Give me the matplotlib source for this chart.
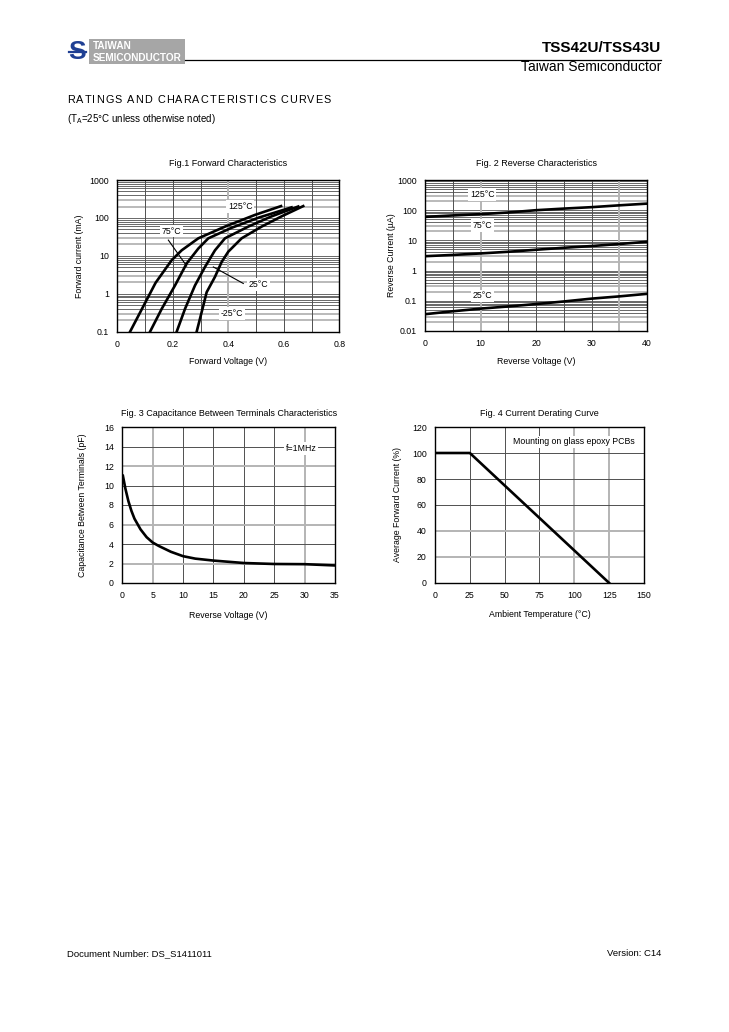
# Recreate the TSS42U/TSS43U characteristic curves page.
import numpy as np
import matplotlib
matplotlib.use('Agg')
import matplotlib.pyplot as plt
from matplotlib.patches import Rectangle

plt.rcParams['font.family'] = ['Liberation Sans', 'DejaVu Sans']
plt.rcParams['mathtext.fontset'] = 'custom'
plt.rcParams['mathtext.rm'] = 'Liberation Sans'

# Fig.1 forward characteristics (V, mA).
vf_125 = [0.046, 0.138, 0.196, 0.232, 0.292, 0.388, 0.496, 0.590]
if_125 = [0.1, 1.95, 7.7, 14, 29, 59, 120, 205]
vf_75 = [0.118, 0.16, 0.208, 0.25, 0.292, 0.328, 0.412, 0.508, 0.628]
if_75 = [0.1, 0.4, 1.66, 6.3, 15.6, 29, 55, 101, 190]
vf_25 = [0.214, 0.244, 0.28, 0.316, 0.352, 0.388, 0.472, 0.556, 0.652]
if_25 = [0.1, 0.4, 1.66, 5.1, 14, 29, 59, 110, 200]
vf_m25 = [0.286, 0.31, 0.322, 0.352, 0.376, 0.40, 0.448, 0.52, 0.592, 0.670]
if_m25 = [0.1, 0.49, 1.1, 2.8, 6.9, 12.9, 29, 59, 110, 205]

# Fig.2 reverse characteristics (V, uA).
vr = [0, 5, 10, 15, 20, 25, 30, 35, 40]
ir_125 = [60, 67, 74, 84, 100, 113, 126, 145, 165]
ir_75 = [3.0, 3.3, 3.7, 4.2, 4.9, 5.7, 6.5, 7.6, 9.0]
ir_25 = [0.036, 0.045, 0.055, 0.065, 0.078, 0.095, 0.118, 0.14, 0.17]

# Fig.3 capacitance (V, pF).
vc = [0.1, 0.5, 1, 1.5, 2, 3, 4, 5, 6, 8, 10, 12, 15, 20, 25, 30, 35]
cap = [11.0, 9.7, 8.4, 7.4, 6.6, 5.5, 4.7, 4.15, 3.8, 3.2, 2.75, 2.5, 2.3, 2.05, 1.95, 1.93, 1.8]

# Fig.4 derating (deg C, %).
ta = [0, 25, 125]
iav = [100, 100, 0]

DARK = '#505050'
LIGHT = '#b4b4b4'

fig = plt.figure(figsize=(7.29, 10.32), dpi=100)


def px(x, y):
    # pixel position -> figure fraction
    return x / 729, 1 - y / 1032


def box(l, t, r, b):
    return [l / 729, 1 - b / 1032, (r - l) / 729, (b - t) / 1032]


def style(ax):
    ax.tick_params(length=0, labelsize=6.3, pad=6)
    for s in ax.spines.values():
        s.set_linewidth(1.0)
        s.set_color('black')
        s.set_zorder(5)


def vlines(ax, light, dark):
    for v in light:
        ax.axvline(v, color=LIGHT, lw=1.4, zorder=1)
    for v in dark:
        ax.axvline(v, color=DARK, lw=0.7, zorder=1)


def hlines(ax, light, dark):
    for v in light:
        ax.axhline(v, color=LIGHT, lw=1.4, zorder=1)
    for v in dark:
        ax.axhline(v, color=DARK, lw=0.7, zorder=1)


def log_grid(ax, d0, d1):
    for d in range(d0, d1):
        for m in range(1, 10):
            y = m * 10.0 ** d
            if m in (2, 3):
                ax.axhline(y, color=LIGHT, lw=1.3, zorder=1)
            else:
                ax.axhline(y, color=DARK, lw=0.6, zorder=1)


def spaced_text(x, y, s, gap, **kw):
    # draw text one character at a time with extra letter spacing (pixels)
    r = fig.canvas.get_renderer()
    for ch in s:
        t = fig.text(x / 729, 1 - y / 1032, ch, **kw)
        if ch == ' ':
            w = fig.text(0, 0, 'a a', **kw)
            w2 = fig.text(0, 0, 'aa', **kw)
            sw = w.get_window_extent(r).width - w2.get_window_extent(r).width
            w.remove()
            w2.remove()
        else:
            sw = t.get_window_extent(r).width
        x += sw + gap


lbl = dict(fontsize=6.3, ha='center', va='center', zorder=4,
           bbox=dict(facecolor='white', edgecolor='none', pad=1.2))

# ---------------- Fig.1 ----------------
ax1 = fig.add_axes(box(117.3, 180, 339.3, 331.7))
ax1.set_yscale('log')
ax1.set_xlim(0, 0.8)
ax1.set_ylim(0.1, 1000)
log_grid(ax1, -1, 3)
vlines(ax1, [0.4], [0.1, 0.2, 0.3, 0.5, 0.6, 0.7])
for v, i in [(vf_125, if_125), (vf_75, if_75), (vf_25, if_25), (vf_m25, if_m25)]:
    ax1.plot(v, i, color='black', lw=1.9, zorder=3)
ax1.plot([0.184, 0.25], [26, 5.4], color='black', lw=0.8, zorder=3)
ax1.plot([0.454, 0.346], [1.87, 5.1], color='black', lw=0.8, zorder=3)
ax1.text(0.443, 200, '125°C', **lbl)
ax1.text(0.195, 45, '75°C', **lbl)
ax1.text(0.508, 1.74, '25°C', **lbl)
ax1.text(0.413, 0.3, '-25°C', **lbl)
ax1.set_xticks([0, 0.2, 0.4, 0.6, 0.8])
ax1.set_xticklabels(['0', '0.2', '0.4', '0.6', '0.8'])
ax1.set_yticks([0.1, 1, 10, 100, 1000])
ax1.set_yticklabels(['0.1', '1', '10', '100', '1000'])
ax1.minorticks_off()
style(ax1)
ax1.set_title('Fig.1 Forward Characteristics', fontsize=6.5, pad=10)
ax1.set_xlabel('Forward Voltage (V)', fontsize=6.3, labelpad=6)
ax1.set_ylabel('Forward current (mA)', fontsize=6.3, labelpad=4)

# ---------------- Fig.2 ----------------
ax2 = fig.add_axes(box(425, 180, 647, 331))
ax2.set_yscale('log')
ax2.set_xlim(0, 40)
ax2.set_ylim(0.01, 1000)
log_grid(ax2, -2, 3)
vlines(ax2, [10, 35], [5, 15, 20, 25, 30])
for i in (ir_125, ir_75, ir_25):
    ax2.plot(vr, i, color='black', lw=1.9, zorder=3)
ax2.text(10.3, 330, '125°C', **lbl)
ax2.text(10.3, 31, '75°C', **lbl)
ax2.text(10.3, 0.145, '25°C', **lbl)
ax2.set_xticks([0, 10, 20, 30, 40])
ax2.set_yticks([0.01, 0.1, 1, 10, 100, 1000])
ax2.set_yticklabels(['0.01', '0.1', '1', '10', '100', '1000'])
ax2.minorticks_off()
style(ax2)
ax2.set_title('Fig. 2 Reverse Characteristics', fontsize=6.5, pad=10)
ax2.set_xlabel('Reverse Voltage (V)', fontsize=6.3, labelpad=6)
ax2.set_ylabel('Reverse Current (µA)', fontsize=6.3, labelpad=1)

# ---------------- Fig.3 ----------------
ax3 = fig.add_axes(box(122.3, 427, 335, 583))
ax3.set_xlim(0, 35)
ax3.set_ylim(0, 16)
vlines(ax3, [5, 30], [10, 15, 20, 25])
hlines(ax3, [2, 6, 12], [4, 8, 10, 14])
ax3.plot(vc, cap, color='black', lw=1.9, zorder=3)
ax3.text(29.4, 13.8, 'f=1MHz', **lbl)
ax3.set_xticks([0, 5, 10, 15, 20, 25, 30, 35])
ax3.set_yticks(range(0, 17, 2))
style(ax3)
ax3.set_title('Fig. 3 Capacitance Between Terminals Characteristics', fontsize=6.5, pad=8)
ax3.set_xlabel('Reverse Voltage (V)', fontsize=6.3, labelpad=8)
ax3.set_ylabel('Capacitance Between Terminals (pF)', fontsize=6.3, labelpad=12)

# ---------------- Fig.4 ----------------
ax4 = fig.add_axes(box(435, 427, 644, 583))
ax4.set_xlim(0, 150)
ax4.set_ylim(0, 120)
vlines(ax4, [100, 125], [25, 50, 75])
hlines(ax4, [20, 40], [60, 80, 100])
ax4.plot(ta, iav, color='black', lw=1.9, zorder=3)
ax4.text(99.8, 108.7, 'Mounting on glass epoxy PCBs', **lbl)
ax4.set_xticks([0, 25, 50, 75, 100, 125, 150])
ax4.set_yticks(range(0, 121, 20))
style(ax4)
ax4.set_title('Fig. 4 Current Derating Curve', fontsize=6.5, pad=8)
ax4.set_xlabel('Ambient Temperature (°C)', fontsize=6.3, labelpad=7)
ax4.set_ylabel('Average Forward Current (%)', fontsize=6.3, labelpad=7)

# ---------------- page header / footer ----------------
fig.patches.append(Rectangle(px(89, 64), 96 / 729, 25 / 1032, transform=fig.transFigure,
                             facecolor='#a6a6a6', edgecolor='none'))
fig.text(*px(77, 52), 'S', fontsize=19, fontweight='bold', color='#1f3f93',
         ha='center', va='center')
fig.lines.append(plt.Line2D([69 / 729, 86 / 729], [1 - 52 / 1032] * 2,
                            transform=fig.transFigure, color='#1f3f93', lw=1.6))
fig.text(*px(93, 46), 'TAIWAN', fontsize=7.2, fontweight='bold', color='white',
         ha='left', va='center')
fig.text(*px(93, 58), 'SEMICONDUCTOR', fontsize=7.2, fontweight='bold', color='white',
         ha='left', va='center')
fig.lines.append(plt.Line2D([185 / 729, 661 / 729], [1 - 60 / 1032] * 2,
                            transform=fig.transFigure, color='black', lw=0.9))
fig.text(*px(661, 48), 'TSS42U/TSS43U', fontsize=11, fontweight='bold',
         ha='right', va='center')
fig.text(*px(661, 67), 'Taiwan Semiconductor', fontsize=10, ha='right', va='center')
spaced_text(67, 100, 'RATINGS AND CHARACTERISTICS CURVES', 1.1, fontsize=7.8,
            ha='left', va='center')
fig.text(*px(67, 119), r'(T$_{\rm A}$=25°C unless otherwise noted)', fontsize=7,
         ha='left', va='center')
fig.text(*px(67, 954), 'Document Number: DS_S1411011', fontsize=6.8, ha='left', va='center')
fig.text(*px(661, 954), 'Version: C14', fontsize=6.8, ha='right', va='center')

fig.savefig('out.png', dpi=100)
